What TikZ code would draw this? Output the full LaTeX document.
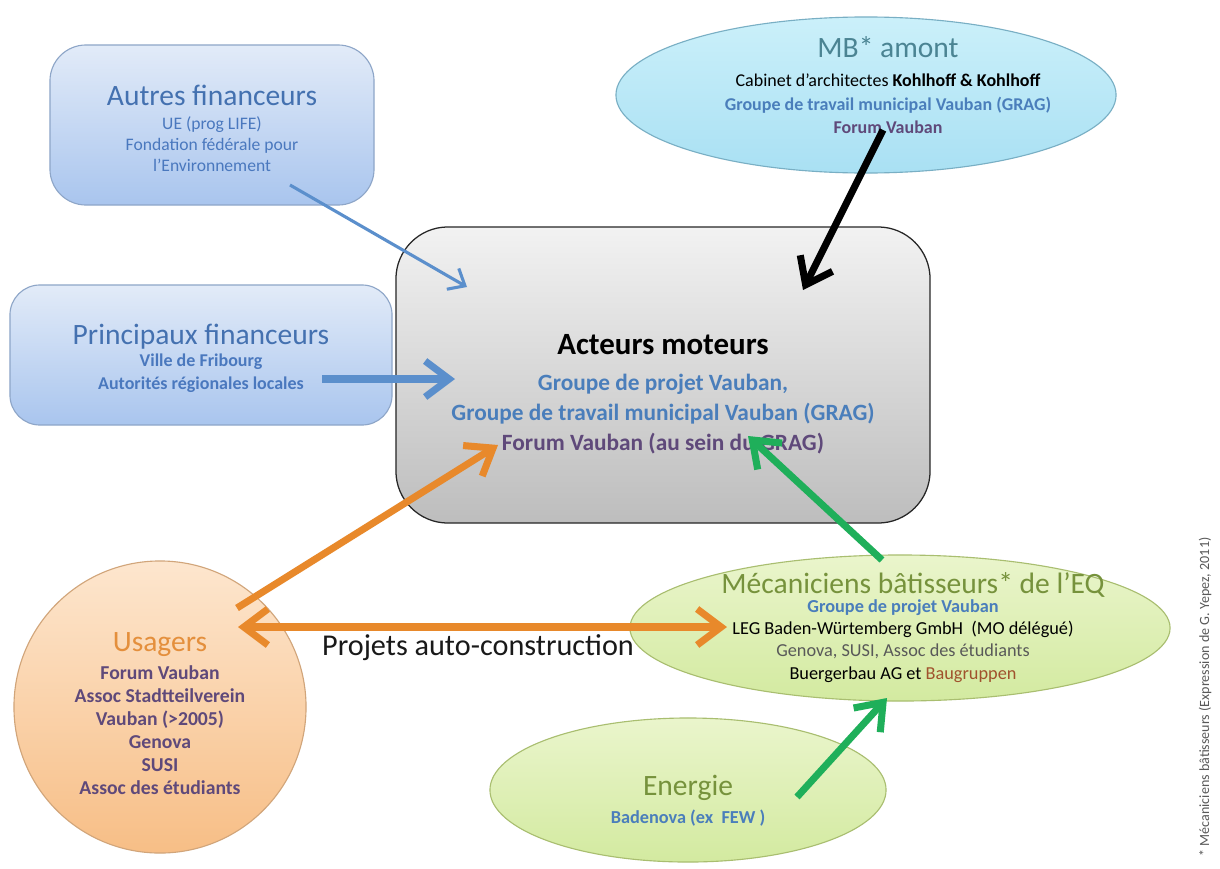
\documentclass[tikz,border=0pt]{standalone}
\usepackage{fontspec}
\setmainfont{Carlito}
\definecolor{finTop}{HTML}{E2EBF8}
\definecolor{finBottom}{HTML}{A9C5EE}
\definecolor{finBorder}{HTML}{8EA6C8}
\definecolor{finTitle}{HTML}{4471B0}
\definecolor{finText}{HTML}{4A78BE}
\definecolor{grayTop}{HTML}{F2F2F2}
\definecolor{grayBottom}{HTML}{BDBDBD}
\definecolor{mbTop}{HTML}{CBF0FA}
\definecolor{mbBottom}{HTML}{A9E0F3}
\definecolor{mbBorder}{HTML}{79AFC4}
\definecolor{mbTitle}{HTML}{4B8493}
\definecolor{usaTop}{HTML}{FDE6CE}
\definecolor{usaBottom}{HTML}{F7BE86}
\definecolor{usaBorder}{HTML}{D1A57A}
\definecolor{usaTitle}{HTML}{E48F3C}
\definecolor{mecTop}{HTML}{EAF5CC}
\definecolor{mecBottom}{HTML}{D3EAA0}
\definecolor{mecBorder}{HTML}{A9BE70}
\definecolor{mecTitle}{HTML}{76923C}
\definecolor{textBlue}{HTML}{4A7EBB}
\definecolor{textPurple}{HTML}{5F497A}
\definecolor{textGray}{HTML}{595959}
\definecolor{textBrown}{HTML}{A0522D}
\definecolor{arrowBlue}{HTML}{5B8FCC}
\definecolor{arrowOrange}{HTML}{E8892B}
\definecolor{arrowGreen}{HTML}{1FAF5A}
\usetikzlibrary{arrows.meta, shapes.geometric}

\tikzset{
  finbox/.style={draw=finBorder, line width=0.8pt, top color=finTop, bottom color=finBottom, inner sep=0pt},
  bigtitle/.style={font=\fontsize{21}{25}\selectfont},
  thickarrow/.style={line width=5pt, -{Straight Barb[length=6mm,width=9mm]}},
}

\begin{document}
\begin{tikzpicture}[x=0.025cm, y=-0.025cm]
    \useasboundingbox[fill=white] (0,0) rectangle (1220,868);

    % shapes
    \node[finbox, rounded corners=0.9cm, minimum width=8.1cm, minimum height=4cm] (autres) at (212,125) {};
    \node[finbox, rounded corners=0.75cm, minimum width=9.55cm, minimum height=3.5cm] (princ) at (201,355) {};
    \node[draw=black!85, line width=0.9pt, rounded corners=1.3cm, top color=grayTop, bottom color=grayBottom,
          minimum width=13.35cm, minimum height=7.4cm, inner sep=0pt] (acteurs) at (663,375) {};
    \node[ellipse, draw=mbBorder, line width=0.8pt, top color=mbTop, bottom color=mbBottom,
          minimum width=12.5cm, minimum height=3.9cm, inner sep=0pt] (mb) at (866,95) {};
    \node[circle, draw=usaBorder, line width=0.8pt, top color=usaTop, bottom color=usaBottom,
          minimum size=7.3cm, inner sep=0pt] (usagers) at (160,707) {};
    \node[ellipse, draw=mecBorder, line width=0.8pt, top color=mecTop, bottom color=mecBottom,
          minimum width=13.5cm, minimum height=3.65cm, inner sep=0pt] (meca) at (900,628) {};
    \node[ellipse, draw=mecBorder, line width=0.8pt, top color=mecTop, bottom color=mecBottom,
          minimum width=9.9cm, minimum height=3.6cm, inner sep=0pt] (energie) at (688,790) {};

    % texts
    \node[bigtitle, text=finTitle] (autresT) at (212,95) {Autres financeurs};
    \node[align=center, text=finText, font=\fontsize{12.5}{15}\selectfont] (autresB) at (212,144)
        {UE (prog LIFE)\\Fondation fédérale pour\\l’Environnement};

    \node[bigtitle, text=finTitle] (princT) at (201,337) {Principaux financeurs};
    \node[align=center, text=finText, font=\bfseries\fontsize{12.8}{16.3}\selectfont] (princB) at (201,373)
        {Ville de Fribourg\\Autorités régionales locales};

    \node[font=\bfseries\fontsize{22}{26}\selectfont] (acteursT) at (663,345) {Acteurs moteurs};
    \node[align=center, font=\bfseries\fontsize{16.6}{21.6}\selectfont] (acteursB) at (663,414)
        {\textcolor{textBlue}{Groupe de projet Vauban,}\\\textcolor{textBlue}{Groupe de travail municipal Vauban (GRAG)}\\\textcolor{textPurple}{Forum Vauban (au sein du GRAG)}};

    \node[bigtitle, text=mbTitle] (mbT) at (888,47) {MB* amont};
    \node[align=center, font=\fontsize{12.8}{16.6}\selectfont] (mbB) at (888,104)
        {Cabinet d’architectes \textbf{Kohlhoff \& Kohlhoff}\\\textcolor{textBlue}{\textbf{Groupe de travail municipal Vauban (GRAG)}}\\\textcolor{textPurple}{\textbf{Forum Vauban}}};

    \node[bigtitle, text=usaTitle] (usagersT) at (160,645) {Usagers};
    \node[align=center, text=textPurple, font=\bfseries\fontsize{14}{16.4}\selectfont] (usagersB) at (160,730)
        {Forum Vauban\\Assoc Stadtteilverein\\Vauban (>2005)\\Genova\\SUSI\\Assoc des étudiants};

    \node[bigtitle, text=mecTitle] (mecaT) at (913,585) {Mécaniciens bâtisseurs* de l’EQ};
    \node[align=center, font=\fontsize{13}{15.8}\selectfont] (mecaB) at (903,641)
        {\textcolor{textBlue}{\textbf{Groupe de projet Vauban}}\\LEG Baden-Würtemberg GmbH~~(MO délégué)\\\textcolor{textGray}{Genova, SUSI, Assoc des étudiants}\\Buergerbau AG et \textcolor{textBrown}{Baugruppen}};

    \node[bigtitle, text=mecTitle] (energieT) at (688,788) {Energie};
    \node[text=textBlue, font=\bfseries\fontsize{13}{16}\selectfont] (energieB) at (688,818) {Badenova (ex~~FEW )};

    \node[font=\fontsize{21.5}{25}\selectfont, text=black!90] (projets) at (478,648) {Projets auto-construction};

    \node[rotate=90, text=textGray, font=\fontsize{10}{12}\selectfont] (note) at (1205,697)
        {* Mécaniciens bâtisseurs (Expression de G. Yepez, 2011)};

    % connectors
    \coordinate (autresOut) at (290,185);
    \coordinate (acteursNW) at (467,287);
    \coordinate (princOut) at (322,379);
    \coordinate (acteursW) at (455,379);
    \coordinate (mbOut) at (883,130);
    \coordinate (acteursNE) at (803,290);
    \coordinate (usagersOut) at (237,608);
    \coordinate (acteursSW) at (498,445);
    \coordinate (usagersE) at (238,627);
    \coordinate (mecaW) at (727,627);
    \coordinate (mecaOut) at (882,560);
    \coordinate (acteursSE) at (748,436);
    \coordinate (energieOut) at (797,797);
    \coordinate (mecaS) at (887,698);

    \draw[arrowBlue, line width=2.2pt, -{Straight Barb[length=3.5mm,width=6mm]}] (autresOut) -- (acteursNW);
    \draw[arrowBlue, thickarrow] (princOut) -- (acteursW);
    \draw[black, thickarrow] (mbOut) -- (acteursNE);
    \draw[arrowOrange, thickarrow] (usagersOut) -- (acteursSW);
    \draw[arrowOrange, line width=5pt, {Straight Barb[length=6mm,width=9mm]}-{Straight Barb[length=6mm,width=9mm]}] (usagersE) -- (mecaW);
    \draw[arrowGreen, thickarrow] (mecaOut) -- (acteursSE);
    \draw[arrowGreen, thickarrow] (energieOut) -- (mecaS);
\end{tikzpicture}
\end{document}
